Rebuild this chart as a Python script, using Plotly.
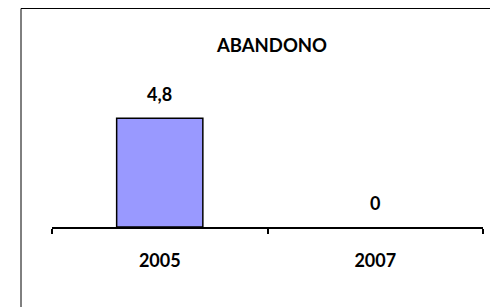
import plotly.graph_objects as go

categories = ["2005", "2007"]
values = [4.8, 0]
title_text = "ABANDONO"

labels = [f"{v:g}".replace(".", ",") for v in values]

FONT = "Lato"
# the page body adds an 8px offset; figure sized to fit the window exactly
W, H = 490, 299
L, R, T, B = 44, 15, 83, 80
PH = H - T - B

fig = go.Figure()
fig.add_trace(go.Bar(
    x=categories, y=values, width=0.4,
    marker=dict(color="#9999FF",
                line=dict(color="black", width=[1.5 if v > 0 else 0 for v in values])),
    hoverinfo="skip",
))

for i, (v, lab) in enumerate(zip(values, labels)):
    fig.add_annotation(x=i, y=v, text=f"<b>{lab}</b>", showarrow=False,
                       yanchor="bottom", yshift=11,
                       font=dict(family=FONT, size=18, color="black"))

fig.add_shape(type="rect", xref="paper", yref="paper",
              x0=-31 / (W - L - R), x1=1.2, y0=-0.8, y1=(PH - 0.5) / PH + T / PH,
              line=dict(color="black", width=1), fillcolor="rgba(0,0,0,0)")

fig.update_layout(
    width=W, height=H,
    margin=dict(l=L, r=R, t=T, b=B),
    paper_bgcolor="white", plot_bgcolor="white",
    showlegend=False,
    title=dict(text=f"<b>{title_text}</b>", x=264 / W, xanchor="center",
               y=1 - 38 / H, yanchor="middle", yref="container",
               font=dict(family=FONT, size=18.5, color="black")),
    xaxis=dict(type="category", range=[-0.5, 1.5],
               showline=True, linecolor="black", linewidth=1.5,
               ticks="outside", tickson="boundaries", ticklen=5,
               tickwidth=1.5, tickcolor="black",
               showgrid=False, zeroline=False,
               tickfont=dict(family=FONT, size=18, color="black"),
               ticklabelstandoff=17, tickprefix="<b>", ticksuffix="</b>"),
    yaxis=dict(range=[0, 6], visible=False, showgrid=False, zeroline=False),
)

fig.write_html("out.html")
